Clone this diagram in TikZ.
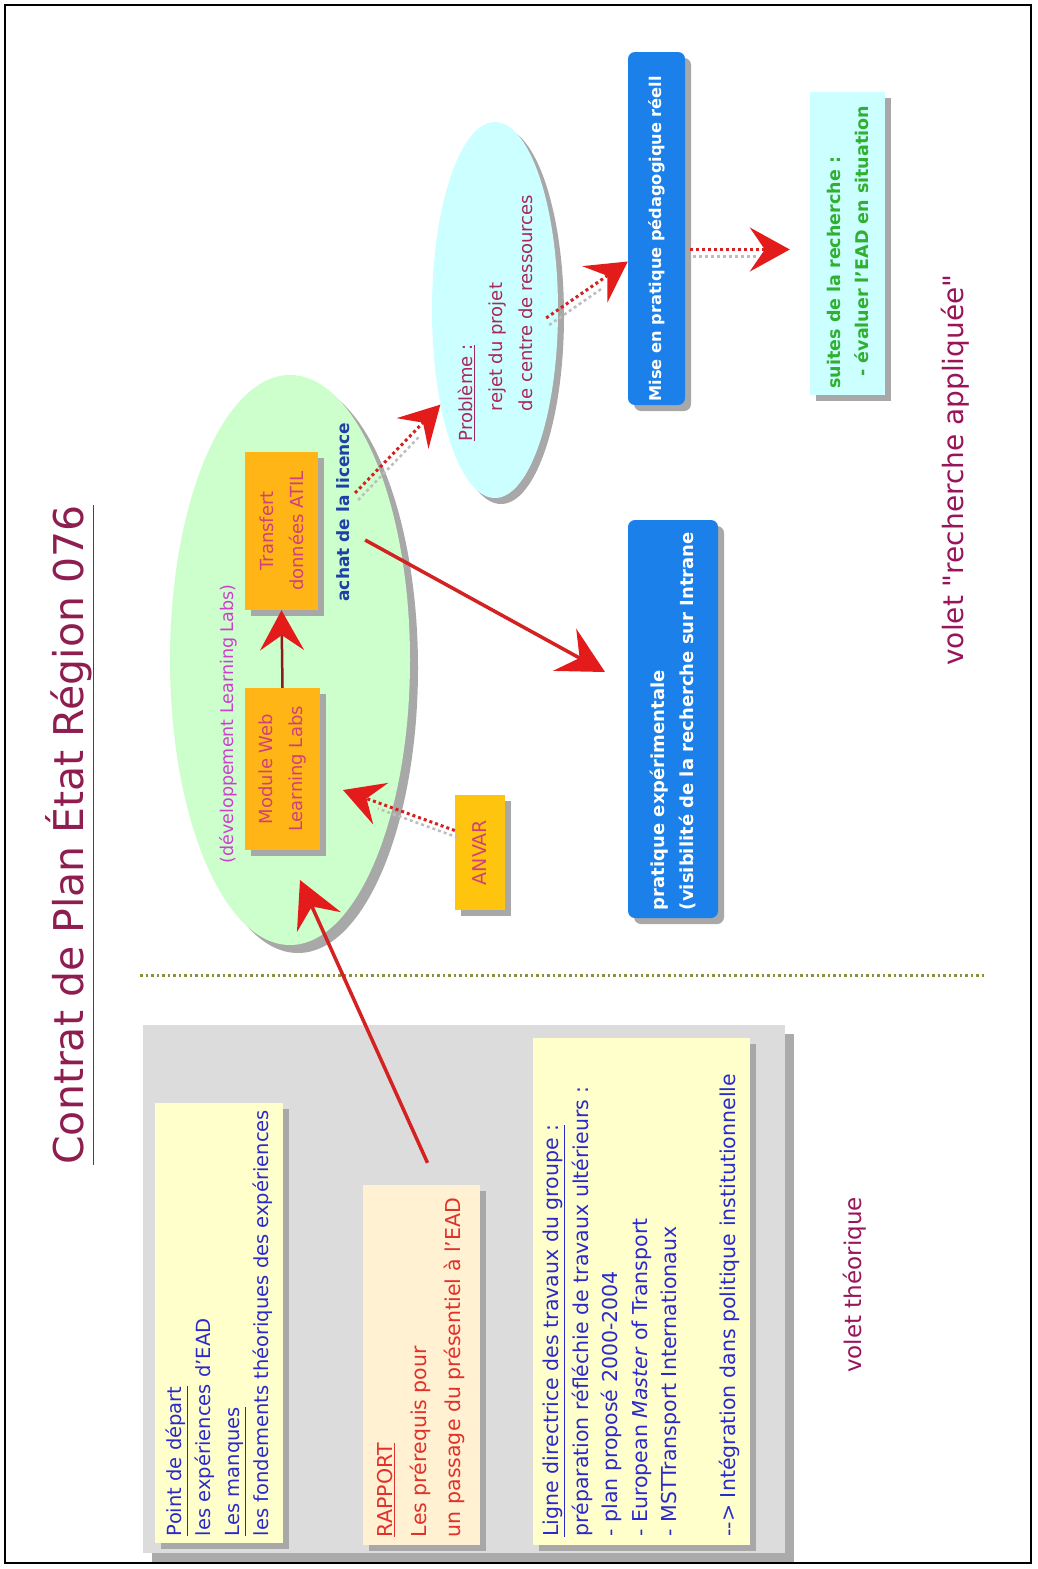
\documentclass[tikz,border=0pt]{standalone}
\usepackage{fontspec}
\setmainfont{DejaVu Sans}
\newfontfamily\plainfont{DejaVu Sans}
\usepackage{graphicx}
\usetikzlibrary{arrows.meta,shapes.geometric,shadows}
\definecolor{titlec}{HTML}{8E1E50}
\definecolor{voletc}{HTML}{99155A}
\definecolor{txtblue}{HTML}{2A2ACC}
\definecolor{txtred}{HTML}{E2302A}
\definecolor{yellowf}{HTML}{FFFFCC}
\definecolor{peachf}{HTML}{FFF1D2}
\definecolor{panelf}{HTML}{DCDCDC}
\definecolor{panels}{HTML}{ABABAB}
\definecolor{boxs}{HTML}{A8A8A8}
\definecolor{greenf}{HTML}{CCFFCC}
\definecolor{cyanf}{HTML}{CCFFFF}
\definecolor{orangef}{HTML}{FFB515}
\definecolor{anvarf}{HTML}{FFC40D}
\definecolor{pinkt}{HTML}{D0407A}
\definecolor{devt}{HTML}{CC40CC}
\definecolor{achatt}{HTML}{2040A8}
\definecolor{bluef}{HTML}{1B80EA}
\definecolor{probt}{HTML}{A8285A}
\definecolor{greent}{HTML}{30B030}
\definecolor{arrowred}{HTML}{E41B1B}
\definecolor{linered}{HTML}{D42222}
\definecolor{darkred}{HTML}{8E1A1A}
\definecolor{sepc}{HTML}{8F8F40}
\definecolor{dotshade}{HTML}{BDBDBD}
\newcommand{\rtxt}[2]{\rotatebox{90}{\parbox{#1}{\raggedright #2}}}
\newcommand{\ctxt}[2]{\rotatebox{90}{\parbox{#1}{\centering #2}}}
\tikzset{
  card/.style={rectangle, inner sep=0pt},
  sh/.style={drop shadow={shadow xshift=6pt,shadow yshift=-6pt,fill=boxs,opacity=1}},
  bigsh/.style={drop shadow={shadow xshift=9pt,shadow yshift=-9pt,fill=panels,opacity=1}},
  solidarrow/.style={draw=linered, line width=3.5pt, -{Stealth[length=46pt,width=48pt,inset=17pt,color=arrowred]}},
  darkarrow/.style={draw=darkred, line width=2.5pt, -{Stealth[length=40pt,width=44pt,inset=15pt,color=arrowred]}},
  dotarrow/.style={draw=linered, line width=3pt, dash pattern=on 3pt off 3pt,
    preaction={draw=dotshade, line width=2.5pt, dash pattern=on 3pt off 3pt, arrows=-, shorten >=34pt, transform canvas={shift={(3pt,-7pt)}}},
    -{Stealth[length=40pt,width=44pt,inset=15pt,color=arrowred]}},
  volet/.style={rotate=90, text=voletc},
}
\begin{document}
\begin{tikzpicture}[x=1pt,y=-1pt]
\useasboundingbox (0,0) rectangle (1037,1569);
\fill[white] (0,0) rectangle (1037,1569);
\draw[line width=1.2pt] (5,5) rectangle (1031,1563);

% title
\node[rotate=90, text=titlec, font=\fontsize{41}{48}\selectfont] (title) at (70,835) {\underline{Contrat de Plan État Région 076}};

% left panel
\node[card, bigsh, fill=panelf, minimum width=642pt, minimum height=528pt] (panel) at (464,1289) {};
\node[card, sh, fill=yellowf, minimum width=128pt, minimum height=440pt, text=txtblue, font=\fontsize{19.5}{29}\selectfont] (depart) at (219,1323)
  {\rtxt{426pt}{\underline{Point de départ}\\les expériences d'EAD\\\underline{Les manques}\\les fondements théoriques des expériences}};
\node[card, sh, fill=peachf, minimum width=117pt, minimum height=360pt, text=txtred, font=\fontsize{20.5}{34}\selectfont] (rapport) at (421.5,1365)
  {\rtxt{344pt}{\underline{RAPPORT}\\Les prérequis pour\\un passage du présentiel à l'EAD}};
\node[card, sh, fill=yellowf, minimum width=217pt, minimum height=507pt, text=txtblue, font=\fontsize{20.5}{29.5}\selectfont] (ligne) at (641.5,1291.5)
  {\rtxt{490pt}{\underline{Ligne directrice des travaux du groupe :}\\préparation réfléchie de travaux ultérieurs :\\- plan proposé 2000-2004\\- European \textit{Master} of Transport\\- MSTTransport Internationaux\\\mbox{}\\{-}{-}> Intégration dans politique institutionnelle}};

% separator
\draw[sepc, line width=3pt, dash pattern=on 2.5pt off 3pt] (140,975) -- (985,975);

% green ellipse and contents
\node[ellipse, inner sep=0pt, fill=greenf, minimum width=240pt, minimum height=570pt, drop shadow={shadow xshift=8pt,shadow yshift=-8pt,fill=boxs,opacity=1}] (green) at (290,660) {};
\node[rotate=90, text=devt, font=\fontsize{17.5}{20}\selectfont] (dev) at (228,724) {(développement Learning Labs)};
\node[card, sh, fill=orangef, minimum width=75pt, minimum height=162pt, text=pinkt, font=\fontsize{18}{30}\selectfont] (module) at (282.5,769)
  {\ctxt{150pt}{Module Web\\Learning Labs}};
\node[card, sh, fill=orangef, minimum width=73pt, minimum height=158pt, text=pinkt, font=\fontsize{18}{30}\selectfont] (transfert) at (281.5,531)
  {\ctxt{150pt}{Transfert\\données ATIL}};
\node[rotate=90, text=achatt, font=\bfseries\fontsize{17}{20}\selectfont] (achat) at (343,512) {achat de la licence};

% ANVAR
\node[card, sh, fill=anvarf, minimum width=50pt, minimum height=115pt, text=pinkt, font=\fontsize{19}{22}\selectfont] (anvar) at (480,852.5) {\rotatebox{90}{ANVAR}};

% blue boxes
\node[card, sh, rounded corners=7pt, fill=bluef, minimum width=90pt, minimum height=398pt, text=white, font=\bfseries\fontsize{18}{29}\selectfont] (prat) at (673,719)
  {\rtxt{382pt}{pratique expérimentale\\(visibilité de la recherche sur Intrane}};
\node[card, sh, rounded corners=7pt, fill=bluef, minimum width=57pt, minimum height=353pt, text=white, font=\bfseries\fontsize{16.2}{29}\selectfont] (mise) at (656.5,228.5)
  {\rtxt{346pt}{Mise en pratique pédagogique réell}};

% probleme ellipse
\node[ellipse, inner sep=0pt, fill=cyanf, minimum width=126pt, minimum height=376pt, drop shadow={shadow xshift=6pt,shadow yshift=-6pt,fill=boxs,opacity=1}, text=probt, font=\fontsize{18}{30}\selectfont] (prob) at (495,310)
  {\rtxt{262pt}{\underline{Problème :}\\\hspace*{30pt}rejet du projet\\\hspace*{30pt}de centre de ressources}};

% suites
\node[card, sh, fill=cyanf, minimum width=75pt, minimum height=303pt, text=greent, font=\bfseries\fontsize{17.5}{28}\selectfont] (suites) at (847.5,243.5)
  {\rtxt{290pt}{suites de la recherche :\\\hspace*{12pt}- évaluer l'EAD en situation}};

% volets
\node[volet, font=\fontsize{23}{26}\selectfont] (vtheo) at (855,1285) {volet théorique};
\node[volet, font=\fontsize{28}{32}\selectfont] (vappl) at (955,470) {volet {\plainfont"}recherche appliquée{\plainfont"}};

% connectors
\coordinate (tipR) at (300,880);
\coordinate (tipA) at (343,790);
\coordinate (tipP) at (605,672);
\draw[solidarrow] ([xshift=6pt,yshift=22pt]rapport.north) -- (tipR);
\draw[dotarrow] ([yshift=22pt]anvar.west) -- (tipA);
\draw[darkarrow] (module.north) -- (transfert.south);
\draw[solidarrow] ([xshift=12pt,yshift=-28pt]achat.south) -- (tipP);
\draw[dotarrow] ([xshift=2pt,yshift=19pt]achat.south) -- (prob.240);
\draw[dotarrow] ([xshift=-12pt,yshift=-8pt]prob.east) -- ([yshift=-33pt]mise.west);
\draw[dotarrow] ([xshift=5pt,yshift=-21pt]mise.east) -- ([xshift=-20pt,yshift=-6pt]suites.west);
\end{tikzpicture}
\end{document}
